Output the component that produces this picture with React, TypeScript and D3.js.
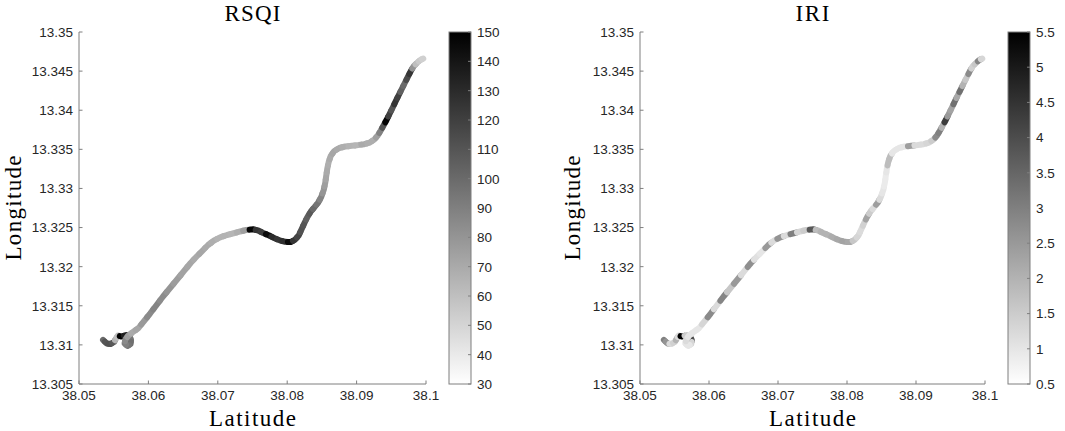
import React from 'react';
import * as d3 from 'd3';

const latitude = [
  38.05346, 38.05397, 38.05454, 38.05505, 38.05534, 38.05562, 38.05613, 38.05678, 38.05728, 38.0575,
  38.05743, 38.05699, 38.05656, 38.05671, 38.05721, 38.05779, 38.05858, 38.05937, 38.06024, 38.06118,
  38.06211, 38.06312, 38.06413, 38.06514, 38.06608, 38.06695, 38.06774, 38.0686, 38.06947, 38.07034,
  38.07134, 38.07228, 38.07322, 38.07408, 38.07509, 38.07582, 38.07654, 38.07733, 38.07812, 38.07892,
  38.07971, 38.0805, 38.08115, 38.08166, 38.08209, 38.08252, 38.08295, 38.08346, 38.08396, 38.08447,
  38.0849, 38.08526, 38.08548, 38.08562, 38.08577, 38.08598, 38.08627, 38.08678, 38.0875, 38.08836,
  38.0893, 38.09024, 38.0911, 38.0919, 38.09255, 38.09305, 38.09348, 38.09392, 38.09435, 38.09478,
  38.09521, 38.09565, 38.09608, 38.09651, 38.09694, 38.09738, 38.09781, 38.09824, 38.09875, 38.09918,
  38.09961,
];

const longitude = [
  13.31063, 13.31018, 13.31011, 13.31037, 13.31082, 13.3112, 13.31107, 13.31126, 13.31107, 13.31063,
  13.31011, 13.30986, 13.31018, 13.31075, 13.31126, 13.31165, 13.31216, 13.31305, 13.31401, 13.3151,
  13.31619, 13.31727, 13.31836, 13.31945, 13.32047, 13.3213, 13.322, 13.32277, 13.32335, 13.32375,
  13.32405, 13.32427, 13.3245, 13.32469, 13.32478, 13.32462, 13.3243, 13.32402, 13.32366, 13.32337,
  13.32318, 13.32315, 13.32347, 13.32398, 13.32482, 13.32565, 13.32641, 13.32712, 13.32763, 13.3282,
  13.32891, 13.3298, 13.3307, 13.33159, 13.33249, 13.33338, 13.33415, 13.33479, 13.33517, 13.33536,
  13.33545, 13.33555, 13.33566, 13.33587, 13.33626, 13.33677, 13.33741, 13.33811, 13.33881, 13.33958,
  13.34035, 13.34118, 13.34195, 13.34271, 13.34348, 13.34425, 13.34501, 13.34565, 13.3461, 13.34642,
  13.34661,
];

const rsqi = [
  100, 110, 112, 108, 65, 60, 150, 135, 100, 95, 98, 95, 90, 85, 75, 70,
  72, 78, 85, 88, 84, 80, 76, 74, 72, 70, 72, 70, 68, 66, 66, 65, 68, 75,
  148, 125, 122, 145, 130, 125, 128, 145, 125, 118, 112, 110,
  105, 108, 100, 95, 88, 80, 75, 72, 70, 68, 70, 72, 70, 68, 66, 65, 70, 68,
  68, 75, 90, 110, 148, 120, 110, 125, 120, 105, 100, 115, 125, 80, 60, 55, 52,
];

const iri = [
  3.0, 2.6, 1.2, 1.4, 2.0, 1.2, 5.5, 1.5, 1.3, 4.0, 1.3, 1.0, 1.0, 1.2, 1.0, 1.0,
  1.0, 1.3, 2.8, 1.2, 2.9, 1.6, 2.5, 1.2, 2.7, 1.1, 1.0, 2.5, 1.2, 2.6, 1.2, 3.0, 1.3, 1.5,
  3.8, 1.8, 2.0, 2.0, 2.1, 2.2, 2.3, 2.2, 1.6, 1.3, 1.2, 1.4,
  2.3, 1.5, 1.2, 2.4, 1.2, 1.0, 0.9, 0.9, 1.0, 1.8, 1.8, 1.0, 1.0, 1.0, 2.4, 1.2, 1.2, 1.3,
  1.5, 2.8, 3.0, 2.0, 4.3, 2.5, 2.3, 3.3, 2.2, 3.3, 2.0, 1.6, 2.8, 1.4, 1.6, 2.9, 1.3,
];

const xTickLabels = ['38.05', '38.06', '38.07', '38.08', '38.09', '38.1'];
const yTickLabels = ['13.305', '13.31', '13.315', '13.32', '13.325', '13.33', '13.335', '13.34', '13.345', '13.35'];
const rsqiTickLabels = ['30', '40', '50', '60', '70', '80', '90', '100', '110', '120', '130', '140', '150'];
const iriTickLabels = ['0.5', '1', '1.5', '2', '2.5', '3', '3.5', '4', '4.5', '5', '5.5'];
const rsqiDomain = [30, 150];
const iriDomain = [0.5, 5.5];

const TICK_FONT = '"Liberation Sans", Arial, Helvetica, sans-serif';
const SERIF = '"Liberation Serif", "Times New Roman", serif';
const AXIS_COLOR = '#7f7f7f';
const TEXT_COLOR = '#262626';
const LABEL_SIZE = 23;

type PanelProps = {
  id: string;
  title: string;
  titleLen: number;
  values: number[];
  domain: number[];
  cbTicks: string[];
  x0: number;
  x1: number;
  cbX: number;
  ylabelX: number;
};

function Panel({ id, title, titleLen, values, domain, cbTicks, x0, x1, cbX, ylabelX }: PanelProps) {
  const top = 32;
  const bottom = 384;
  const x = d3.scaleLinear().domain([38.05, 38.1]).range([x0, x1]);
  const y = d3.scaleLinear().domain([13.305, 13.35]).range([bottom, top]);
  const color = d3.scaleLinear<string>().domain(domain).range(['#ffffff', '#000000']).clamp(true);
  const cbY = d3.scaleLinear().domain(domain).range([bottom, top]);
  const cbW = 22;
  const cx = (x0 + x1) / 2;

  const pts: [number, number][] = latitude.map((la, i) => [x(la), y(longitude[i])]);
  const line = d3.line();
  const segs = pts.map((p, i) => {
    const prev = i > 0 ? pts[i - 1] : p;
    const next = i < pts.length - 1 ? pts[i + 1] : p;
    const a: [number, number] = [(prev[0] + p[0]) / 2, (prev[1] + p[1]) / 2];
    const b: [number, number] = [(next[0] + p[0]) / 2, (next[1] + p[1]) / 2];
    return { d: line([a, p, b]) as string, c: color(values[i]) };
  });

  return (
    <g>
      <defs>
        <linearGradient id={`grad-${id}`} x1="0" y1="1" x2="0" y2="0">
          <stop offset="0" stopColor="#ffffff" />
          <stop offset="1" stopColor="#000000" />
        </linearGradient>
      </defs>
      {/* axes */}
      <line x1={x0} x2={x0} y1={top} y2={bottom} stroke={AXIS_COLOR} strokeWidth={1} />
      <line x1={x0} x2={x1} y1={bottom} y2={bottom} stroke={AXIS_COLOR} strokeWidth={1} />
      {yTickLabels.map((t) => {
        const v = +t;
        return (
          <g key={`y${t}`}>
            <line x1={x0} x2={x0 + 3.5} y1={y(v)} y2={y(v)} stroke={AXIS_COLOR} />
            <text x={x0 - 6} y={y(v)} dy="0.36em" textAnchor="end" fontFamily={TICK_FONT} fontSize={13.5} fill={TEXT_COLOR}>
              {t}
            </text>
          </g>
        );
      })}
      {xTickLabels.map((t) => {
        const v = +t;
        return (
          <g key={`x${t}`}>
            <line x1={x(v)} x2={x(v)} y1={bottom} y2={bottom - 3.5} stroke={AXIS_COLOR} />
            <text x={x(v)} y={400} textAnchor="middle" fontFamily={TICK_FONT} fontSize={13.5} fill={TEXT_COLOR}>
              {t}
            </text>
          </g>
        );
      })}
      {/* track */}
      <g fill="none" strokeWidth={6} strokeLinecap="round" strokeLinejoin="round">
        {segs.map((s, i) => (
          <path key={i} d={s.d} stroke={s.c} />
        ))}
      </g>
      {/* colorbar */}
      <rect x={cbX} y={top} width={cbW} height={bottom - top} fill={`url(#grad-${id})`} stroke={AXIS_COLOR} strokeWidth={1} />
      {cbTicks.map((t) => {
        const v = +t;
        return (
          <g key={`c${t}`}>
            <line x1={cbX + cbW} x2={cbX + cbW - 3} y1={cbY(v)} y2={cbY(v)} stroke={AXIS_COLOR} />
            <text x={cbX + cbW + 6} y={cbY(v)} dy="0.36em" textAnchor="start" fontFamily={TICK_FONT} fontSize={13.5} fill={TEXT_COLOR}>
              {t}
            </text>
          </g>
        );
      })}
      {/* labels */}
      <text x={cx} y={20.8} textAnchor="middle" fontFamily={SERIF} fontSize={LABEL_SIZE} fill="#000" textLength={titleLen} lengthAdjust="spacing">
        {title}
      </text>
      <text x={cx} y={425.8} textAnchor="middle" fontFamily={SERIF} fontSize={LABEL_SIZE} fill="#000" textLength={87} lengthAdjust="spacing">
        Latitude
      </text>
      <text
        transform={`translate(${ylabelX},208) rotate(-90)`}
        textAnchor="middle"
        fontFamily={SERIF}
        fontSize={LABEL_SIZE}
        fill="#000"
        textLength={105}
        lengthAdjust="spacing"
      >
        Longitude
      </text>
    </g>
  );
}

export default function App() {
  return (
    <svg
      width={1065}
      height={431}
      viewBox="0 0 1065 431"
      style={{ position: 'absolute', left: 0, top: 0, display: 'block', background: '#fff' }}
    >
      <rect x={0} y={0} width={1065} height={431} fill="#fff" />
      <Panel id="rsqi" title="RSQI" titleLen={56} values={rsqi} domain={rsqiDomain} cbTicks={rsqiTickLabels} x0={79} x1={426} cbX={449} ylabelX={20.8} />
      <Panel id="iri" title="IRI" titleLen={34} values={iri} domain={iriDomain} cbTicks={iriTickLabels} x0={640} x1={985} cbX={1008} ylabelX={580} />
    </svg>
  );
}
